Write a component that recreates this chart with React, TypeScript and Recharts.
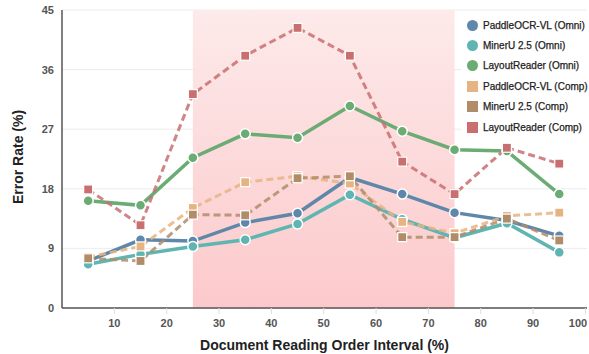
import React from 'react';
import { LineChart, Line, XAxis, YAxis, CartesianGrid, ReferenceArea } from 'recharts';

const intervals = [5, 15, 25, 35, 45, 55, 65, 75, 85, 95];
const xTicks = [10, 20, 30, 40, 50, 60, 70, 80, 90, 100];
const yTicks = [0, 9, 18, 27, 36, 45];

const paddleOmni = [7.1, 10.3, 10.1, 12.9, 14.3, 19.7, 17.2, 14.4, 13.2, 10.9];
const mineruOmni = [6.6, 8.1, 9.3, 10.3, 12.7, 17.1, 13.4, 10.6, 12.8, 8.4];
const layoutOmni = [16.2, 15.5, 22.7, 26.3, 25.7, 30.5, 26.7, 23.9, 23.7, 17.2];
const paddleComp = [7.7, 9.3, 15.1, 19.0, 19.9, 18.8, 13.0, 11.3, 13.9, 14.4];
const mineruComp = [7.5, 7.1, 14.1, 14.0, 19.6, 19.9, 10.7, 10.7, 13.5, 10.2];
const layoutComp = [17.9, 12.5, 32.3, 38.1, 42.3, 38.1, 22.1, 17.2, 24.2, 21.8];

const data = intervals.map((x, i) => ({
  x,
  paddleOmni: paddleOmni[i],
  mineruOmni: mineruOmni[i],
  layoutOmni: layoutOmni[i],
  paddleComp: paddleComp[i],
  mineruComp: mineruComp[i],
  layoutComp: layoutComp[i],
}));

const series = [
  { key: 'paddleOmni', name: 'PaddleOCR-VL (Omni)', color: '#5e87aa', dashed: false },
  { key: 'mineruOmni', name: 'MinerU 2.5 (Omni)', color: '#5fb5b1', dashed: false },
  { key: 'layoutOmni', name: 'LayoutReader (Omni)', color: '#6bab74', dashed: false },
  { key: 'paddleComp', name: 'PaddleOCR-VL (Comp)', color: '#e6b483', dashed: true },
  { key: 'mineruComp', name: 'MinerU 2.5 (Comp)', color: '#b08c69', dashed: true },
  { key: 'layoutComp', name: 'LayoutReader (Comp)', color: '#c96f70', dashed: true },
];

const font = '"Liberation Sans", Arial, sans-serif';

const SquareDot = (props: any) => {
  const { cx, cy, stroke } = props;
  if (cx == null || cy == null) return null;
  return <rect x={cx - 4.5} y={cy - 4.5} width={9} height={9} fill={stroke} stroke="#fff" strokeWidth={1.2} />;
};

// keep the last label inside the picture
const XTick = (props: any) => {
  const { x, y, payload } = props;
  const tx = Math.min(x, 578);
  return (
    <text x={tx} y={y + 11} textAnchor="middle" fill="#555" fontSize={11} fontWeight={600} fontFamily={font}>
      {payload.value}
    </text>
  );
};

const LegendBox = () => (
  <div
    style={{
      position: 'absolute',
      left: 461,
      top: 14,
      width: 126,
      background: '#fff',
      borderRadius: 3,
      padding: '1px 0 2px 6px',
      boxSizing: 'border-box',
      fontFamily: font,
    }}
  >
    {series.map((s) => (
      <div key={s.key} style={{ display: 'flex', alignItems: 'center', height: 20.4, whiteSpace: 'nowrap' }}>
        <span
          style={{
            display: 'inline-block',
            flex: 'none',
            width: 11,
            height: 11,
            borderRadius: s.dashed ? 0 : '50%',
            background: s.color,
            marginRight: 5,
          }}
        />
        <span style={{ fontSize: 10, color: '#222', fontWeight: 400, WebkitTextStroke: '0.25px #222' }}>{s.name}</span>
      </div>
    ))}
  </div>
);

const App = () => {
  return (
    <div style={{ position: 'absolute', left: 0, top: 0, width: 589, height: 354, background: '#fff', overflow: 'hidden' }}>
      <LineChart width={589} height={354} data={data} margin={{ top: 10, right: 2, left: 12, bottom: 16 }}>
        <defs>
          <linearGradient id="zone" x1="0" y1="0" x2="0" y2="1">
            <stop offset="0%" stopColor="#fdeaea" />
            <stop offset="100%" stopColor="#fcc9cb" />
          </linearGradient>
        </defs>
        <ReferenceArea x1={25} x2={75} y1={0} y2={45} fill="url(#zone)" fillOpacity={1} stroke="none" ifOverflow="visible" />
        <CartesianGrid vertical={false} stroke="#ececec" />
        <XAxis
          type="number"
          dataKey="x"
          domain={[0, 100.3]}
          allowDataOverflow
          ticks={xTicks}
          interval={0}
          height={30}
          tick={<XTick />}
          tickLine={{ stroke: '#ddd' }}
          axisLine={{ stroke: '#555', strokeWidth: 1.5 }}
          label={{
            value: 'Document Reading Order Interval (%)',
            position: 'bottom',
            offset: 0,
            dy: 2,
            style: { fill: '#222', fontSize: 14, fontWeight: 700, fontFamily: font },
          }}
        />
        <YAxis
          domain={[0, 45]}
          ticks={yTicks}
          width={50}
          tick={{ fill: '#555', fontSize: 11, fontWeight: 600, fontFamily: font }}
          tickLine={false}
          axisLine={{ stroke: '#555', strokeWidth: 1.5 }}
          label={{
            value: 'Error Rate (%)',
            angle: -90,
            position: 'insideLeft',
            offset: 6,
            dy: 45,
            style: { fill: '#222', fontSize: 14, fontWeight: 700, fontFamily: font },
          }}
        />
        {series.map((s) =>
          s.dashed ? (
            <Line
              key={s.key}
              dataKey={s.key}
              name={s.name}
              stroke={s.color}
              strokeWidth={3}
              strokeDasharray="7 4"
              strokeOpacity={0.85}
              dot={<SquareDot />}
              activeDot={false}
              isAnimationActive={false}
            />
          ) : (
            <Line
              key={s.key}
              dataKey={s.key}
              name={s.name}
              stroke={s.color}
              strokeWidth={3.5}
              dot={{ r: 5, fill: s.color, stroke: '#fff', strokeWidth: 1.5 }}
              activeDot={false}
              isAnimationActive={false}
            />
          )
        )}
      </LineChart>
      <LegendBox />
    </div>
  );
};

export default App;
